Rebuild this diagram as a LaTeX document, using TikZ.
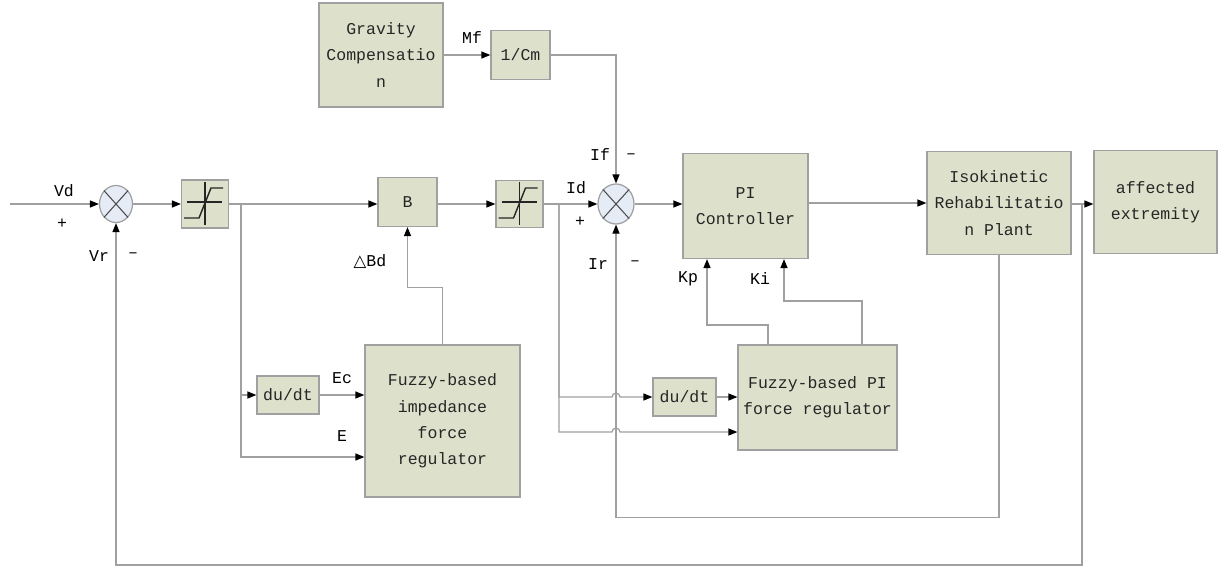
\documentclass[tikz,border=0pt]{standalone}
\usepackage{fontspec}
\setmainfont{Liberation Mono}
\newfontfamily\symfont{DejaVu Sans}
\usetikzlibrary{positioning,arrows.meta,shapes.geometric}
\definecolor{boxfill}{RGB}{221,225,203}
\definecolor{boxline}{RGB}{160,160,160}
\definecolor{wire}{RGB}{160,160,160}
\definecolor{sumfill}{RGB}{230,236,246}
\tikzset{
  sigline/.style={draw=wire, line width=0.7pt, -{Triangle[length=1.8mm, width=1.4mm, color=black]}},
  blockbox/.style={draw=boxline, fill=boxfill, line width=0.7pt, align=center, inner sep=1pt, text=black!85},
  sumnode/.style={ellipse, draw=boxline, fill=sumfill, line width=0.7pt, minimum width=0.66cm, minimum height=0.74cm, inner sep=0pt},
  lbl/.style={inner sep=0pt}
}

\begin{document}
\begin{tikzpicture}[x=0.02cm, y=-0.02cm, every node/.style={font=\fontsize{9.4}{15}\selectfont}]
  \useasboundingbox (0,0) rectangle (1219,572);
  % main row
  \coordinate (vin) at (10,204);
  \node[sumnode] (sum1) at (116,204) {};
  \node[blockbox, minimum width=0.94cm, minimum height=0.96cm] (sat1) at (205,204) {};
  \node[blockbox, minimum width=1.18cm, minimum height=0.98cm] (B) at (407.5,202) {B};
  \node[blockbox, minimum width=0.94cm, minimum height=0.94cm] (sat2) at (519.5,204) {};
  \node[sumnode, minimum width=0.72cm, minimum height=0.8cm] (sum2) at (616,204) {};
  \node[blockbox, minimum width=2.5cm, minimum height=2.1cm] (pi) at (745.5,206) {PI\\Controller};
  \node[blockbox, minimum width=2.88cm, minimum height=2.06cm] (plant) at (999,203) {Isokinetic\\Rehabilitatio\\n Plant};
  \node[blockbox, minimum width=2.46cm, minimum height=2.06cm] (aff) at (1155.5,202) {affected\\extremity};
  % top row
  \node[blockbox, minimum width=2.48cm, minimum height=2.08cm] (grav) at (381,55) {Gravity\\Compensatio\\n};
  \node[blockbox, minimum width=1.18cm, minimum height=0.98cm] (cm) at (520.5,55) {1/Cm};
  % lower blocks
  \node[blockbox, minimum width=1.24cm, minimum height=0.76cm] (du1) at (288,395) {du/dt};
  \node[blockbox, minimum width=3.1cm, minimum height=3.04cm] (fzi) at (442.5,421) {Fuzzy-based\\impedance\\force\\regulator};
  \node[blockbox, minimum width=1.26cm, minimum height=0.76cm] (du2) at (684.5,397) {du/dt};
  \node[blockbox, minimum width=3.18cm, minimum height=2.1cm] (fzp) at (817.5,397.5) {Fuzzy-based PI\\force regulator};

  % summing junction crosses
  \foreach \s in {sum1,sum2} {
    \draw[black!70, line width=0.6pt] (\s.north east) -- (\s.south west);
    \draw[black!70, line width=0.6pt] (\s.north west) -- (\s.south east);
  }
  % saturation symbols
  \foreach \s in {sat1,sat2} {
    \draw[black!85, line width=0.8pt] ([shift={(-18,-2)}]\s.center) -- ++(35,0);
    \draw[black!85, line width=0.8pt] ([shift={(0,-22)}]\s.center) -- ++(0,43);
    \draw[black!85, line width=0.8pt] ([shift={(-21,14)}]\s.center) -- ++(15,0) -- ++(12,-30) -- ++(12,0);
  }

  % branch points
  \coordinate (b1) at (241,204);
  \coordinate (b2) at (559,204);
  \coordinate (b3) at (1082,204);
  \coordinate (j1) at (612,397);
  \coordinate (j2) at (612,432);
  \coordinate (kp) at (707,325);
  \coordinate (ki) at (784,301);

  % forward path
  \draw[sigline] (vin) -- (sum1);
  \draw[sigline] (sum1) -- (sat1);
  \draw[sigline] (sat1) -- (sat1 -| B.west);
  \draw[sigline] (B.east |- sat2) -- (sat2);
  \draw[sigline] (sat2) -- (sum2);
  \draw[sigline] (sum2) -- (sum2 -| pi.west);
  \draw[sigline] (pi.east |- plant) -- (plant);
  \draw[sigline] (plant.east |- b3) -- (b3 -| aff.west);
  \draw[sigline] (grav.east |- cm) -- (cm);
  \draw[sigline] (cm.east) -| (sum2.north);

  % impedance branch
  \draw[sigline] (b1) |- (du1.west);
  \draw[sigline] (du1) -- (du1 -| fzi.west);
  \draw[sigline] (b1) |- ([yshift=-0.72cm]fzi.west);
  \draw[sigline] (fzi.north) -- ++(0,-57) -| (B.south);

  % PI branch with line jumps
  \draw[sigline] (b2) |- (j1) arc[start angle=180, end angle=0, radius=0.08cm] -- (du2.west);
  \draw[sigline] (du2) -- (du2 -| fzp.west);
  \draw[sigline] (b2) |- (j2) arc[start angle=180, end angle=0, radius=0.08cm] -- (j2 -| fzp.west);
  \draw[sigline] ([xshift=-0.99cm]fzp.north) |- (kp) -- (kp |- pi.south);
  \draw[sigline] ([xshift=0.89cm]fzp.north) |- (ki) -- (ki |- pi.south);

  % feedback loops
  \draw[sigline] (plant.south) -- ++(0,262) -| (sum2.south);
  \draw[sigline] (b3) -- ++(0,361) -| (sum1.south);

  % labels
  \node[lbl] (lVd) at (64,191) {Vd};
  \node[lbl] (lp1) at (62,224) {+};
  \node[lbl] (lVr) at (99,256) {Vr};
  \node[lbl] (lm1) at (133,255) {–};
  \node[lbl] (lMf) at (472,38) {Mf};
  \node[lbl] (lIf) at (600,155) {If};
  \node[lbl] (lm2) at (631,156) {–};
  \node[lbl] (lId) at (576,188) {Id};
  \node[lbl] (lp2) at (580,222) {+};
  \node[lbl] (lIr) at (598,264) {Ir};
  \node[lbl] (lm3) at (635,263) {–};
  \node[lbl] (lBd) at (370,262) {{\symfont △}Bd};
  \node[lbl] (lEc) at (342,378) {Ec};
  \node[lbl] (lE) at (342,436) {E};
  \node[lbl] (lKp) at (688,279) {Kp};
  \node[lbl] (lKi) at (760,279) {Ki};
\end{tikzpicture}
\end{document}
